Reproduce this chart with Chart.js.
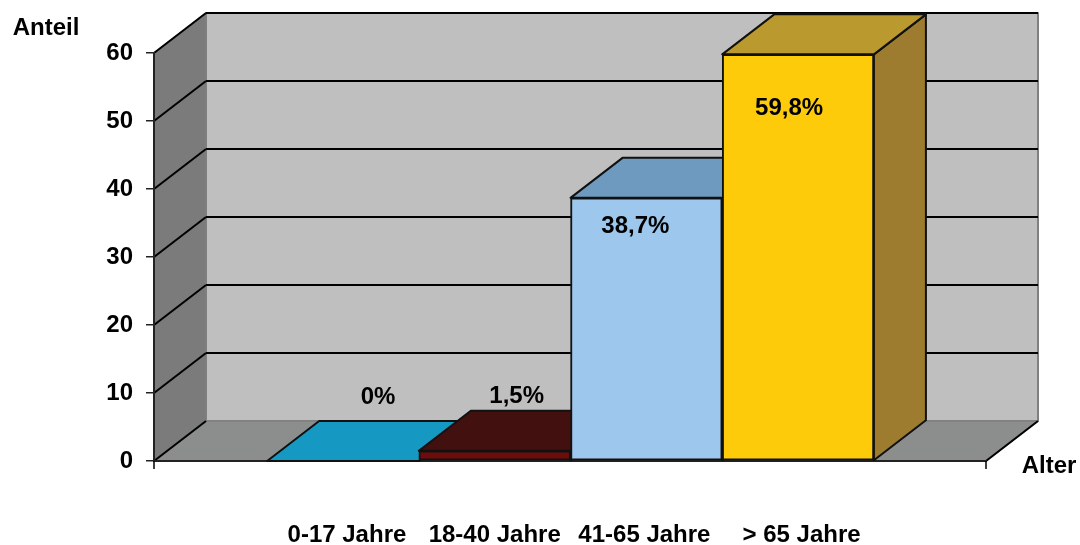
<!DOCTYPE html>
<html>
<head>
<meta charset="utf-8">
<title>Anteil nach Alter</title>
<script src="https://cdn.jsdelivr.net/npm/chart.js@4/dist/chart.umd.min.js"></script>
<style>
    html, body { margin: 0; padding: 0; background: #fff; }
    canvas { display: block; }
</style>
</head>
<body>
<canvas id="canvas1" width="1080" height="545"></canvas>
<script>
// Data
const categories = ['0-17 Jahre', '18-40 Jahre', '41-65 Jahre', '> 65 Jahre'];
const values = [0, 1.5, 38.7, 59.8];
const valueLabels = ['0%', '1,5%', '38,7%', '59,8%'];
const yTicks = [0, 10, 20, 30, 40, 50, 60];

// Colours of the bars
const frontColors = ['#1599C2', '#6E0C0C', '#9DC7EC', '#FECB0B'];
const topColors = ['#1599C2', '#431010', '#6E9ABF', '#BA992E'];
const sideColors = ['#0F7A9B', '#431010', '#5F87AB', '#9E7C2F'];

// Small shifts of the texts, in pixels, from the bar they belong to
const labelShiftX = [35, 22, -11, -9];
const labelShiftY = [-64, -54, 29, 54];
const tickShift = [0.026, 0, -0.013, 0.023];

// Depth of the fake 3D box
const depthX = 52;
const depthY = -40;
const font = 'bold 24px "Liberation Sans", Arial, sans-serif';

function poly(ctx, points, fill, stroke, width) {
    ctx.beginPath();
    points.forEach((p, i) => i === 0 ? ctx.moveTo(p[0], p[1]) : ctx.lineTo(p[0], p[1]));
    ctx.closePath();
    ctx.fillStyle = fill;
    ctx.fill();
    if (stroke) {
        ctx.strokeStyle = stroke;
        ctx.lineWidth = width;
        ctx.lineJoin = 'round';
        ctx.stroke();
    }
}

function line(ctx, x1, y1, x2, y2, color, width) {
    ctx.beginPath();
    ctx.moveTo(x1, y1);
    ctx.lineTo(x2, y2);
    ctx.strokeStyle = color;
    ctx.lineWidth = width;
    ctx.stroke();
}

const box3d = {
    id: 'box3d',
    // walls and floor, under the axes
    beforeDraw(chart) {
        const ctx = chart.ctx;
        const a = chart.chartArea;
        const y = chart.scales.y;
        const dx = depthX, dy = depthY;
        ctx.save();
        poly(ctx, [[a.left + dx, a.top + dy], [a.right + dx, a.top + dy], [a.right + dx, a.bottom + dy], [a.left + dx, a.bottom + dy]], '#BFBFBF', '#808080', 2);
        poly(ctx, [[a.left, a.top], [a.left + dx, a.top + dy], [a.left + dx, a.bottom + dy], [a.left, a.bottom]], '#7B7B7B', '#808080', 1.5);
        poly(ctx, [[a.left, a.bottom], [a.left + dx, a.bottom + dy], [a.right + dx, a.bottom + dy], [a.right, a.bottom]], '#8C8E8D', '#808080', 1.5);
        yTicks.forEach(v => {
            const py = y.getPixelForValue(v);
            line(ctx, a.left, py, a.left + dx, py + dy, '#000', 2);
            if (v > 0) line(ctx, a.left + dx, py + dy, a.right + dx, py + dy, '#000', 2);
        });
        line(ctx, a.right, a.bottom, a.right + dx, a.bottom + dy, '#000', 2);
        ctx.restore();
    },
    // top and side faces, the chart then draws the front faces over them
    beforeDatasetsDraw(chart) {
        const ctx = chart.ctx;
        const dx = depthX, dy = depthY;
        ctx.save();
        chart.getDatasetMeta(0).data.forEach((bar, i) => {
            const l = bar.x - bar.width / 2;
            const r = bar.x + bar.width / 2;
            poly(ctx, [[r, bar.y], [r + dx, bar.y + dy], [r + dx, bar.base + dy], [r, bar.base]], sideColors[i], '#111', 2);
            poly(ctx, [[l, bar.y], [l + dx, bar.y + dy], [r + dx, bar.y + dy], [r, bar.y]], topColors[i], '#111', 2);
        });
        ctx.restore();
    },
    // value labels, axis names and the two end ticks of the x axis
    afterDraw(chart) {
        const ctx = chart.ctx;
        const a = chart.chartArea;
        ctx.save();
        line(ctx, a.left, a.bottom, a.left, a.bottom + 8, '#000', 1.5);
        line(ctx, a.right, a.bottom, a.right, a.bottom + 8, '#000', 1.5);
        ctx.font = font;
        ctx.fillStyle = '#000';
        ctx.textAlign = 'center';
        ctx.textBaseline = 'middle';
        chart.getDatasetMeta(0).data.forEach((bar, i) => {
            ctx.fillText(valueLabels[i], bar.x + labelShiftX[i], bar.y + labelShiftY[i]);
        });
        ctx.fillText('Anteil', 46, 28);
        ctx.fillText('Alter', 1049, 466);
        ctx.restore();
    }
};

const chart1 = new Chart(document.getElementById('canvas1').getContext('2d'), {
    type: 'bar',
    data: {
        datasets: [{
            data: values.map((v, i) => ({ x: i, y: v })),
            backgroundColor: frontColors,
            borderColor: '#111',
            borderWidth: 2,
            borderSkipped: false,
            barThickness: 151.7
        }]
    },
    options: {
        responsive: false,
        animation: false,
        layout: { padding: { top: 53, right: 94 } },
        plugins: { legend: { display: false }, tooltip: { enabled: false } },
        scales: {
            x: {
                type: 'linear',
                offset: false,
                min: -1.246,
                max: 4.239,
                afterFit(scale) { scale.height = 84; },
                afterBuildTicks(scale) {
                    scale.ticks = categories.map((c, i) => ({ value: i + tickShift[i], label: c }));
                },
                afterTickToLabelConversion(scale) {
                    scale.ticks.forEach((t, i) => { t.label = categories[i]; });
                },
                grid: { display: true, offset: false, drawOnChartArea: false, drawTicks: false },
                border: { display: true, color: '#222', width: 2 },
                ticks: {
                    autoSkip: false,
                    maxRotation: 0,
                    padding: 60,
                    color: '#000',
                    font: { family: '"Liberation Sans", Arial, sans-serif', size: 24, weight: 'bold' }
                }
            },
            y: {
                min: 0,
                max: 60,
                afterFit(scale) { scale.width = 154; },
                afterBuildTicks(scale) {
                    scale.ticks = yTicks.map(v => ({ value: v }));
                },
                grid: { drawOnChartArea: false, tickLength: 8, color: '#222', lineWidth: 1.5 },
                border: { display: true, color: '#222', width: 2 },
                ticks: {
                    padding: 13,
                    color: '#000',
                    font: { family: '"Liberation Sans", Arial, sans-serif', size: 24, weight: 'bold' }
                }
            }
        }
    },
    plugins: [box3d]
});
</script>
</body>
</html>
